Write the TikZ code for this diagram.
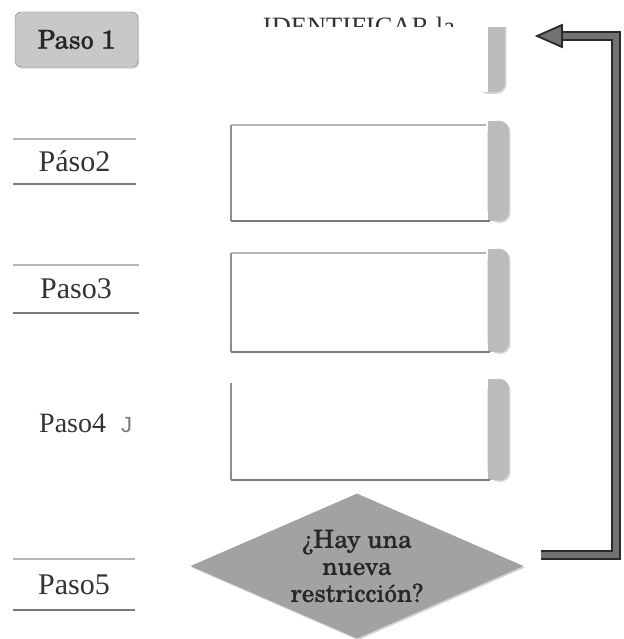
\documentclass[tikz,border=0pt]{standalone}
\usepackage{fontspec}
\setmainfont{Liberation Serif}
\newfontfamily\schola[FakeBold=0.8]{TeX Gyre Schola}
\newfontfamily\sansj{Liberation Sans}
\usetikzlibrary{shapes.geometric,shadows}
\definecolor{inkgray}{HTML}{333333}
\definecolor{rulelight}{HTML}{B4B4B4}
\definecolor{ruledark}{HTML}{7A7A7A}
\definecolor{tabgray}{HTML}{BCBCBC}
\definecolor{btngray}{HTML}{C8C8C8}
\definecolor{diagray}{HTML}{A2A2A2}
\definecolor{loopdark}{HTML}{2A2A2A}
\definecolor{loopgray}{HTML}{727272}
\tikzset{
	softshadow/.style={drop shadow={shadow xshift=1.2pt,shadow yshift=-1.6pt,opacity=.35}},
	steplabel/.style={inner sep=0pt,text=inkgray,font=\fontsize{30}{30}\selectfont},
	stepframe/.style={minimum width=255pt,inner sep=0pt},
	toprule/.style={rulelight,line width=2pt},
	botrule/.style={ruledark,line width=2.4pt},
	sideline/.style={ruledark!85,line width=2pt},
	button/.style={rounded corners=6pt,fill=btngray,draw=gray,softshadow,minimum width=123pt,minimum height=55pt,text=black!85,font=\schola\fontsize{26}{26}\selectfont},
	decision/.style={diamond,fill=diagray,softshadow,inner sep=0pt,shape aspect=2.3,minimum width=333pt,minimum height=145pt,align=center,text=black!85,font=\schola\fontsize{25}{27}\selectfont},
	backline/.style={draw=loopdark,line width=1.8pt,double=loopgray,double distance=6.5pt},
	backhead/.style={draw=loopdark,fill=loopgray,line width=1.8pt,line join=miter}
}
\begin{document}
\begin{tikzpicture}[x=1pt,y=-1pt]
	\useasboundingbox (0,0) rectangle (623,639);
	\node[button] (paso1) at (76.5,39.5) {Paso 1};
	\node[steplabel,minimum width=123pt,minimum height=45pt] (paso2) at (74.5,161.5) {Páso2};
	\node[steplabel,minimum width=126pt,minimum height=48pt] (paso3) at (76,289) {Paso3};
	\node[steplabel,anchor=base west,font=\fontsize{28}{28}\selectfont] (paso4) at (39,432) {Paso4\hspace{15pt}{\sansj\fontsize{22}{22}\selectfont\color{ruledark}J}};
	\node[steplabel,minimum width=122pt,minimum height=51pt] (paso5) at (74,584.5) {Paso5};
	\foreach \p in {paso2,paso3,paso5} {
		\draw[toprule] (\p.north west) -- (\p.north east);
		\draw[botrule] (\p.south west) -- (\p.south east);
	}
	\node[anchor=base,text=inkgray,font=\fontsize{26.5}{26.5}\selectfont] (ident) at (359,35.5) {IDENTIFICAR la};
	\fill[white] (188,27) rectangle (486,110);
	\node[stepframe,minimum height=65pt] (box1) at (358.5,59.5) {};
	\node[stepframe,minimum height=96pt] (box2) at (358.5,173) {};
	\node[stepframe,minimum height=99pt] (box3) at (358.5,302.5) {};
	\node[stepframe,minimum height=97pt] (box4) at (358.5,431.5) {};
	\fill[tabgray,rounded corners=10pt,softshadow] ([xshift=-10pt,yshift=10pt]box1.north east) rectangle ([xshift=19pt]box1.south east);
	\fill[white] ([xshift=-12pt,yshift=12pt]box1.north east) rectangle ([xshift=25pt]box1.north east);
	\fill[white] ([xshift=-12pt,yshift=12pt]box1.north east) rectangle ([xshift=1.5pt]box1.south east);
	\foreach \b in {box2,box3,box4} {
		\fill[tabgray,rounded corners=10pt,softshadow] ([xshift=1.5pt,yshift=4pt]\b.north east) rectangle ([xshift=23pt]\b.south east);
		\fill[tabgray] ([xshift=1.5pt,yshift=4pt]\b.north east) rectangle ([xshift=10pt]\b.south east);
		\draw[sideline] (\b.north west) -- (\b.south west);
		\draw[botrule] (\b.south west) -- ([xshift=4pt]\b.south east);
	}
	\foreach \b in {box2,box3}
		\draw[toprule] (\b.north west) -- (\b.north east);
	\node[decision] (ask) at (357,566) {¿Hay una\\nueva\\restricción?};
	\coordinate (backstart) at (541,555);
	\coordinate (backend) at (560,36);
	\coordinate (backtip) at (537,36);
	\draw[backline] (backstart) -| (616,36) -- (backend);
	\filldraw[backhead] (backtip) -- ++(25,-11) -- ++(0,22) -- cycle;
\end{tikzpicture}
\end{document}
